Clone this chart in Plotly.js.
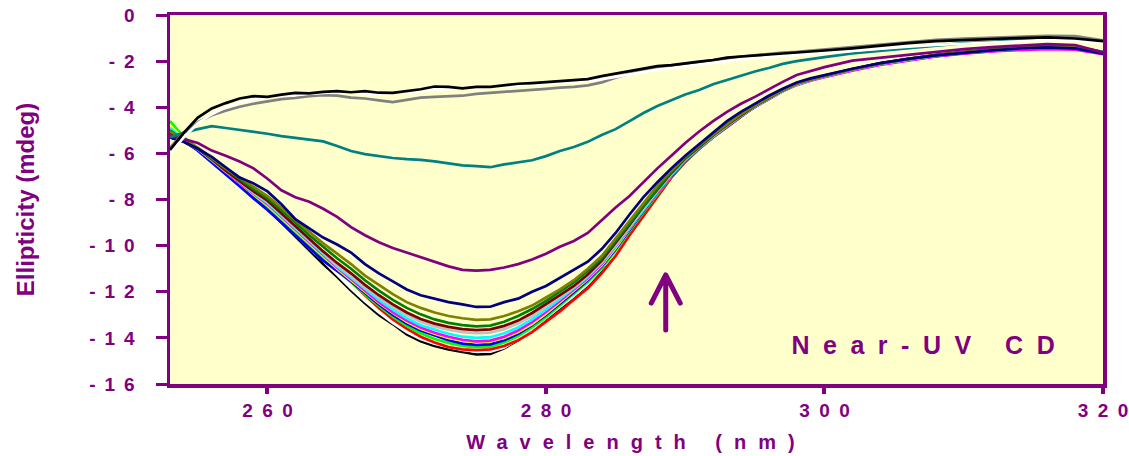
<!DOCTYPE html>
<html>
<head>
<meta charset="utf-8">
<script src="https://cdn.plot.ly/plotly-3.0.1.min.js"></script>
<style>
  html, body { margin: 0; padding: 0; background: #ffffff; }
  #chart { width: 1129px; height: 456px; }
  /* spaced-out lettering used throughout the figure */
  #chart .ytick text { letter-spacing: 9px; }
  #chart text.xtitle { letter-spacing: 12px; }
  #chart .annotation-text { letter-spacing: 13.5px; }
  #chart .shapelayer path { stroke-linecap: round; stroke-linejoin: round; }
</style>
</head>
<body>
<div id="chart"></div>
<script>
// Wavelength grid (nm)
const wavelength = [253,254,255,256,257,258,259,260,261,262,
  263,264,265,266,267,268,269,270,271,272,
  273,274,275,276,277,278,279,280,281,282,
  283,284,285,286,287,288,289,290,291,292,
  293,294,295,296,297,298,299,300,
  302,304,306,308,310,312,314,316,318,320];

// Ellipticity (mdeg) for each spectrum
const blackLow = [-5.3,-5.5,-5.85,-6.3,-6.8,-7.3,-7.85,-8.4,-9.0,-9.6,
  -10.2,-10.8,-11.35,-11.95,-12.5,-13.0,-13.4,-13.85,-14.15,-14.35,
  -14.5,-14.62,-14.72,-14.7,-14.45,-14.1,-13.7,-13.2,-12.75,-12.25,
  -11.75,-11.1,-10.4,-9.5,-8.7,-7.85,-7.0,-6.35,-5.8,-5.3,
  -4.85,-4.4,-3.95,-3.6,-3.25,-2.98,-2.8,-2.65,
  -2.37,-2.13,-1.93,-1.77,-1.63,-1.53,-1.44,-1.36,-1.36,-1.62];
const whiteLow = [-5.25,-5.45,-5.8,-6.25,-6.72,-7.22,-7.75,-8.3,-8.9,-9.5,
  -10.1,-10.65,-11.25,-11.85,-12.4,-12.9,-13.35,-13.75,-14.05,-14.25,
  -14.4,-14.52,-14.6,-14.6,-14.42,-14.05,-13.62,-13.12,-12.66,-12.18,
  -11.66,-11.0,-10.3,-9.42,-8.62,-7.8,-6.96,-6.32,-5.76,-5.27,
  -4.82,-4.38,-3.93,-3.58,-3.24,-2.96,-2.79,-2.63,
  -2.36,-2.12,-1.92,-1.76,-1.62,-1.52,-1.43,-1.35,-1.36,-1.6];
const red = [-5.2,-5.45,-5.8,-6.2,-6.7,-7.15,-7.7,-8.25,-8.8,-9.35,
  -9.9,-10.45,-11.0,-11.55,-12.15,-12.7,-13.2,-13.6,-13.95,-14.2,
  -14.4,-14.5,-14.53,-14.5,-14.35,-14.1,-13.75,-13.3,-12.85,-12.35,
  -11.85,-11.2,-10.45,-9.55,-8.7,-7.85,-7.05,-6.38,-5.8,-5.3,
  -4.85,-4.4,-3.96,-3.6,-3.28,-3.0,-2.8,-2.64,
  -2.35,-2.1,-1.9,-1.75,-1.62,-1.5,-1.42,-1.36,-1.38,-1.6];
const lime = [-4.6,-5.3,-5.78,-6.3,-6.82,-7.32,-7.82,-8.3,-8.88,-9.45,
  -10.02,-10.58,-11.05,-11.6,-12.12,-12.62,-13.08,-13.48,-13.8,-14.05,
  -14.22,-14.35,-14.4,-14.38,-14.2,-13.92,-13.55,-13.1,-12.6,-12.1,
  -11.58,-10.98,-10.22,-9.38,-8.55,-7.78,-7.0,-6.34,-5.79,-5.3,
  -4.84,-4.39,-3.98,-3.62,-3.28,-3.0,-2.8,-2.65,
  -2.36,-2.12,-1.92,-1.76,-1.63,-1.53,-1.45,-1.39,-1.42,-1.66];
const blue = [-4.95,-5.45,-5.88,-6.38,-6.9,-7.42,-7.95,-8.45,-9.0,-9.55,
  -10.1,-10.65,-11.1,-11.55,-12.05,-12.55,-13.0,-13.38,-13.68,-13.9,
  -14.1,-14.25,-14.3,-14.28,-14.1,-13.82,-13.45,-13.0,-12.52,-12.02,
  -11.5,-10.9,-10.15,-9.32,-8.5,-7.72,-6.98,-6.33,-5.78,-5.29,
  -4.83,-4.39,-3.99,-3.63,-3.3,-3.02,-2.82,-2.66,
  -2.37,-2.13,-1.94,-1.78,-1.65,-1.55,-1.48,-1.42,-1.45,-1.68];
const yellow = [-4.8,-5.38,-5.8,-6.3,-6.8,-7.3,-7.78,-8.25,-8.8,-9.35,
  -9.92,-10.47,-11.0,-11.5,-12.0,-12.48,-12.92,-13.3,-13.6,-13.82,
  -14.0,-14.12,-14.18,-14.15,-14.0,-13.75,-13.4,-12.95,-12.45,-11.95,
  -11.45,-10.85,-10.1,-9.28,-8.45,-7.7,-6.95,-6.3,-5.76,-5.27,
  -4.8,-4.36,-3.96,-3.6,-3.27,-3.0,-2.8,-2.64,
  -2.35,-2.11,-1.92,-1.76,-1.63,-1.53,-1.45,-1.39,-1.41,-1.63];
const magenta = [-5.0,-5.42,-5.82,-6.3,-6.8,-7.28,-7.75,-8.2,-8.75,-9.3,
  -9.88,-10.42,-10.95,-11.45,-11.95,-12.45,-12.88,-13.25,-13.55,-13.78,
  -13.95,-14.08,-14.15,-14.12,-13.95,-13.68,-13.32,-12.88,-12.4,-11.9,
  -11.4,-10.8,-10.05,-9.25,-8.45,-7.7,-6.95,-6.3,-5.76,-5.27,
  -4.82,-4.38,-3.98,-3.64,-3.31,-3.04,-2.85,-2.7,
  -2.41,-2.16,-1.97,-1.8,-1.68,-1.58,-1.52,-1.48,-1.5,-1.7];
const cyan = [-4.9,-5.4,-5.8,-6.28,-6.78,-7.25,-7.72,-8.15,-8.7,-9.25,
  -9.82,-10.38,-10.9,-11.38,-11.88,-12.35,-12.78,-13.15,-13.45,-13.65,
  -13.82,-13.95,-14.0,-13.97,-13.8,-13.55,-13.2,-12.78,-12.32,-11.85,
  -11.35,-10.75,-10.0,-9.2,-8.4,-7.65,-6.92,-6.28,-5.74,-5.25,
  -4.8,-4.37,-3.97,-3.62,-3.3,-3.02,-2.82,-2.66,
  -2.37,-2.12,-1.93,-1.76,-1.63,-1.53,-1.45,-1.4,-1.42,-1.6];
const silver = [-5.1,-5.45,-5.82,-6.28,-6.78,-7.22,-7.7,-8.1,-8.65,-9.2,
  -9.78,-10.32,-10.85,-11.3,-11.8,-12.25,-12.65,-13.0,-13.3,-13.5,
  -13.65,-13.75,-13.8,-13.77,-13.62,-13.38,-13.05,-12.65,-12.22,-11.8,
  -11.3,-10.7,-9.95,-9.15,-8.35,-7.6,-6.88,-6.25,-5.72,-5.24,
  -4.79,-4.36,-3.96,-3.62,-3.28,-3.0,-2.8,-2.65,
  -2.36,-2.11,-1.91,-1.74,-1.61,-1.51,-1.43,-1.37,-1.4,-1.65];
const maroon = [-5.1,-5.45,-5.8,-6.25,-6.75,-7.2,-7.65,-8.05,-8.6,-9.15,
  -9.7,-10.25,-10.75,-11.2,-11.7,-12.15,-12.55,-12.9,-13.18,-13.38,
  -13.52,-13.62,-13.66,-13.63,-13.48,-13.25,-12.92,-12.55,-12.15,-11.75,
  -11.25,-10.65,-9.9,-9.1,-8.3,-7.55,-6.85,-6.22,-5.7,-5.22,
  -4.77,-4.34,-3.94,-3.6,-3.27,-2.98,-2.79,-2.64,
  -2.35,-2.1,-1.9,-1.73,-1.6,-1.5,-1.42,-1.35,-1.37,-1.62];
const darkGreen = [-5.0,-5.42,-5.78,-6.22,-6.7,-7.12,-7.55,-7.95,-8.45,-9.0,
  -9.55,-10.05,-10.55,-11.0,-11.5,-11.95,-12.35,-12.7,-12.98,-13.2,
  -13.35,-13.45,-13.5,-13.47,-13.3,-13.05,-12.75,-12.4,-12.0,-11.6,
  -11.1,-10.55,-9.8,-9.05,-8.25,-7.5,-6.8,-6.2,-5.68,-5.2,
  -4.75,-4.32,-3.93,-3.58,-3.25,-2.97,-2.78,-2.63,
  -2.34,-2.1,-1.9,-1.74,-1.61,-1.5,-1.42,-1.36,-1.38,-1.65];
const olive = [-5.05,-5.4,-5.75,-6.2,-6.65,-7.05,-7.45,-7.85,-8.35,-8.9,
  -9.4,-9.9,-10.35,-10.8,-11.3,-11.7,-12.1,-12.45,-12.7,-12.9,
  -13.05,-13.15,-13.22,-13.2,-13.05,-12.85,-12.6,-12.25,-11.9,-11.5,
  -11.0,-10.45,-9.7,-8.95,-8.15,-7.4,-6.75,-6.15,-5.65,-5.17,
  -4.72,-4.3,-3.92,-3.58,-3.26,-2.98,-2.8,-2.64,
  -2.36,-2.1,-1.92,-1.75,-1.62,-1.52,-1.43,-1.37,-1.38,-1.62];
const navy = [-5.3,-5.5,-5.8,-6.15,-6.6,-7.05,-7.3,-7.65,-8.2,-8.85,
  -9.25,-9.65,-9.95,-10.3,-10.8,-11.2,-11.55,-11.9,-12.15,-12.3,
  -12.45,-12.55,-12.66,-12.65,-12.45,-12.3,-12.0,-11.75,-11.4,-11.06,
  -10.7,-10.15,-9.45,-8.65,-7.9,-7.25,-6.65,-6.1,-5.6,-5.1,
  -4.6,-4.2,-3.85,-3.5,-3.2,-2.93,-2.75,-2.6,
  -2.33,-2.09,-1.9,-1.75,-1.63,-1.53,-1.45,-1.4,-1.45,-1.68];
const purple = [-5.25,-5.38,-5.55,-5.88,-6.1,-6.35,-6.65,-7.1,-7.6,-7.9,
  -8.1,-8.4,-8.75,-9.2,-9.55,-9.85,-10.1,-10.3,-10.5,-10.7,
  -10.9,-11.05,-11.08,-11.05,-10.95,-10.8,-10.6,-10.35,-10.05,-9.8,
  -9.45,-8.9,-8.35,-7.85,-7.25,-6.65,-6.1,-5.55,-5.05,-4.6,
  -4.2,-3.85,-3.55,-3.22,-2.9,-2.6,-2.42,-2.26,
  -1.98,-1.85,-1.72,-1.58,-1.48,-1.39,-1.32,-1.26,-1.3,-1.62];
const teal = [-5.3,-5.1,-4.95,-4.82,-4.9,-4.98,-5.05,-5.15,-5.25,-5.33,
  -5.4,-5.48,-5.68,-5.9,-6.03,-6.12,-6.2,-6.25,-6.28,-6.35,
  -6.45,-6.52,-6.55,-6.6,-6.48,-6.4,-6.3,-6.12,-5.9,-5.72,
  -5.5,-5.2,-4.95,-4.6,-4.25,-3.95,-3.7,-3.45,-3.25,-3.0,
  -2.82,-2.62,-2.45,-2.3,-2.12,-2.0,-1.9,-1.83,
  -1.67,-1.55,-1.45,-1.33,-1.22,-1.17,-1.1,-1.02,-1.05,-1.15];
const gray = [-5.75,-5.1,-4.65,-4.35,-4.15,-3.98,-3.85,-3.75,-3.65,-3.6,
  -3.52,-3.48,-3.5,-3.58,-3.62,-3.7,-3.78,-3.68,-3.58,-3.55,
  -3.52,-3.5,-3.42,-3.38,-3.35,-3.28,-3.25,-3.2,-3.15,-3.12,
  -3.05,-2.92,-2.72,-2.55,-2.42,-2.3,-2.2,-2.12,-2.03,-1.95,
  -1.88,-1.8,-1.74,-1.68,-1.63,-1.6,-1.55,-1.5,
  -1.4,-1.28,-1.17,-1.08,-1.02,-0.97,-0.93,-0.9,-0.92,-1.1];
const whiteTop = [-6.0,-5.3,-4.7,-4.3,-4.0,-3.78,-3.65,-3.55,-3.5,-3.45,
  -3.42,-3.38,-3.35,-3.35,-3.4,-3.42,-3.38,-3.35,-3.3,-3.25,
  -3.22,-3.2,-3.18,-3.15,-3.1,-3.05,-3.0,-2.95,-2.92,-2.9,
  -2.85,-2.78,-2.68,-2.57,-2.47,-2.37,-2.3,-2.22,-2.15,-2.08,
  -2.0,-1.93,-1.87,-1.82,-1.78,-1.74,-1.7,-1.65,
  -1.56,-1.46,-1.37,-1.3,-1.24,-1.18,-1.12,-1.08,-1.1,-1.22];
const blackTop = [-5.85,-5.1,-4.45,-4.05,-3.82,-3.62,-3.52,-3.55,-3.45,-3.38,
  -3.4,-3.33,-3.3,-3.35,-3.3,-3.37,-3.38,-3.3,-3.22,-3.1,
  -3.12,-3.18,-3.12,-3.12,-3.05,-2.98,-2.95,-2.9,-2.86,-2.82,
  -2.78,-2.65,-2.55,-2.42,-2.32,-2.22,-2.17,-2.08,-2.02,-1.95,
  -1.85,-1.8,-1.76,-1.72,-1.68,-1.65,-1.6,-1.54,
  -1.45,-1.32,-1.22,-1.13,-1.08,-1.04,-1.0,-0.97,-1.02,-1.13];

// Drawing order: deepest spectra first, shallow ones on top
const spectra = [
  [blackLow, '#000000'], [whiteLow, '#ffffff'], [red, '#ff0000'], [lime, '#00ff00'],
  [blue, '#0000ff'], [yellow, '#ffff00'], [magenta, '#ff00ff'], [cyan, '#00ffff'],
  [silver, '#c0c0c0'], [maroon, '#800000'], [darkGreen, '#008000'], [olive, '#808000'],
  [navy, '#000080'], [purple, '#800080'], [teal, '#008080'], [gray, '#808080'],
  [whiteTop, '#ffffff'], [blackTop, '#000000']
];

const xTicks = [260, 280, 300, 320];
// wavelength labels are spelled out with en spaces between the digits
const xTickText = ['2\u20026\u20020', '2\u20028\u20020', '3\u20020\u20020', '3\u20022\u20020'];
const yTicks = [0, -2, -4, -6, -8, -10, -12, -14, -16];
const yTickText = ['0', '-2', '-4', '-6', '-8', '-10', '-12', '-14', '-16'];

// Marker arrow (nm, mdeg)
const arrowX = 288.6, arrowBase = -13.66, arrowTip = -11.27, arrowWingY = -12.49, arrowHalf = 1.04;

const ink = '#800080';
const face = 'Liberation Sans, Arial, sans-serif';

const traces = spectra.map(([vals, col]) => ({
  type: 'scatter', mode: 'lines', x: wavelength, y: vals,
  line: { color: col, width: 2.7 }, hoverinfo: 'skip'
}));

const layout = {
  width: 1129, height: 456,
  margin: { l: 170, r: 26, t: 15, b: 72, pad: 0 },
  paper_bgcolor: '#ffffff', plot_bgcolor: '#ffffcc',
  showlegend: false,
  xaxis: {
    range: [253, 320], tickmode: 'array', tickvals: xTicks, ticktext: xTickText,
    ticks: 'outside', ticklen: 6, tickwidth: 4, tickcolor: ink,
    showline: true, linecolor: ink, linewidth: 3.5, mirror: true,
    showgrid: false, zeroline: false, ticklabelstandoff: 1,
    tickfont: { family: face, size: 19, color: ink, weight: 'bold' },
    title: { text: 'Wavelength (nm)', standoff: 15,
      font: { family: face, size: 20, color: ink, weight: 'bold' } },
    automargin: false
  },
  yaxis: {
    range: [-16, 0], tickmode: 'array', tickvals: yTicks, ticktext: yTickText,
    ticks: 'outside', ticklen: 11, tickwidth: 3, tickcolor: ink,
    showline: true, linecolor: ink, linewidth: 3.5, mirror: true,
    showgrid: false, zeroline: false, ticklabelstandoff: 8,
    tickfont: { family: face, size: 19, color: ink, weight: 'bold' },
    title: { text: 'Ellipticity (mdeg)', standoff: 76,
      font: { family: face, size: 24, color: ink, weight: 'bold' } },
    automargin: false
  },
  annotations: [{
    text: 'Near-UV CD', xref: 'paper', yref: 'paper', x: 0.815, y: 0.106,
    xanchor: 'center', yanchor: 'middle', showarrow: false,
    font: { family: face, size: 25, color: ink, weight: 'bold' }
  }],
  shapes: [{
    type: 'path', xref: 'x', yref: 'y',
    path: `M${arrowX},${arrowBase} L${arrowX},${arrowTip} ` +
          `M${arrowX - arrowHalf},${arrowWingY} L${arrowX},${arrowTip} L${arrowX + arrowHalf},${arrowWingY}`,
    line: { color: ink, width: 5 }
  }]
};

Plotly.newPlot('chart', traces, layout, { staticPlot: true, displayModeBar: false });
</script>
</body>
</html>
